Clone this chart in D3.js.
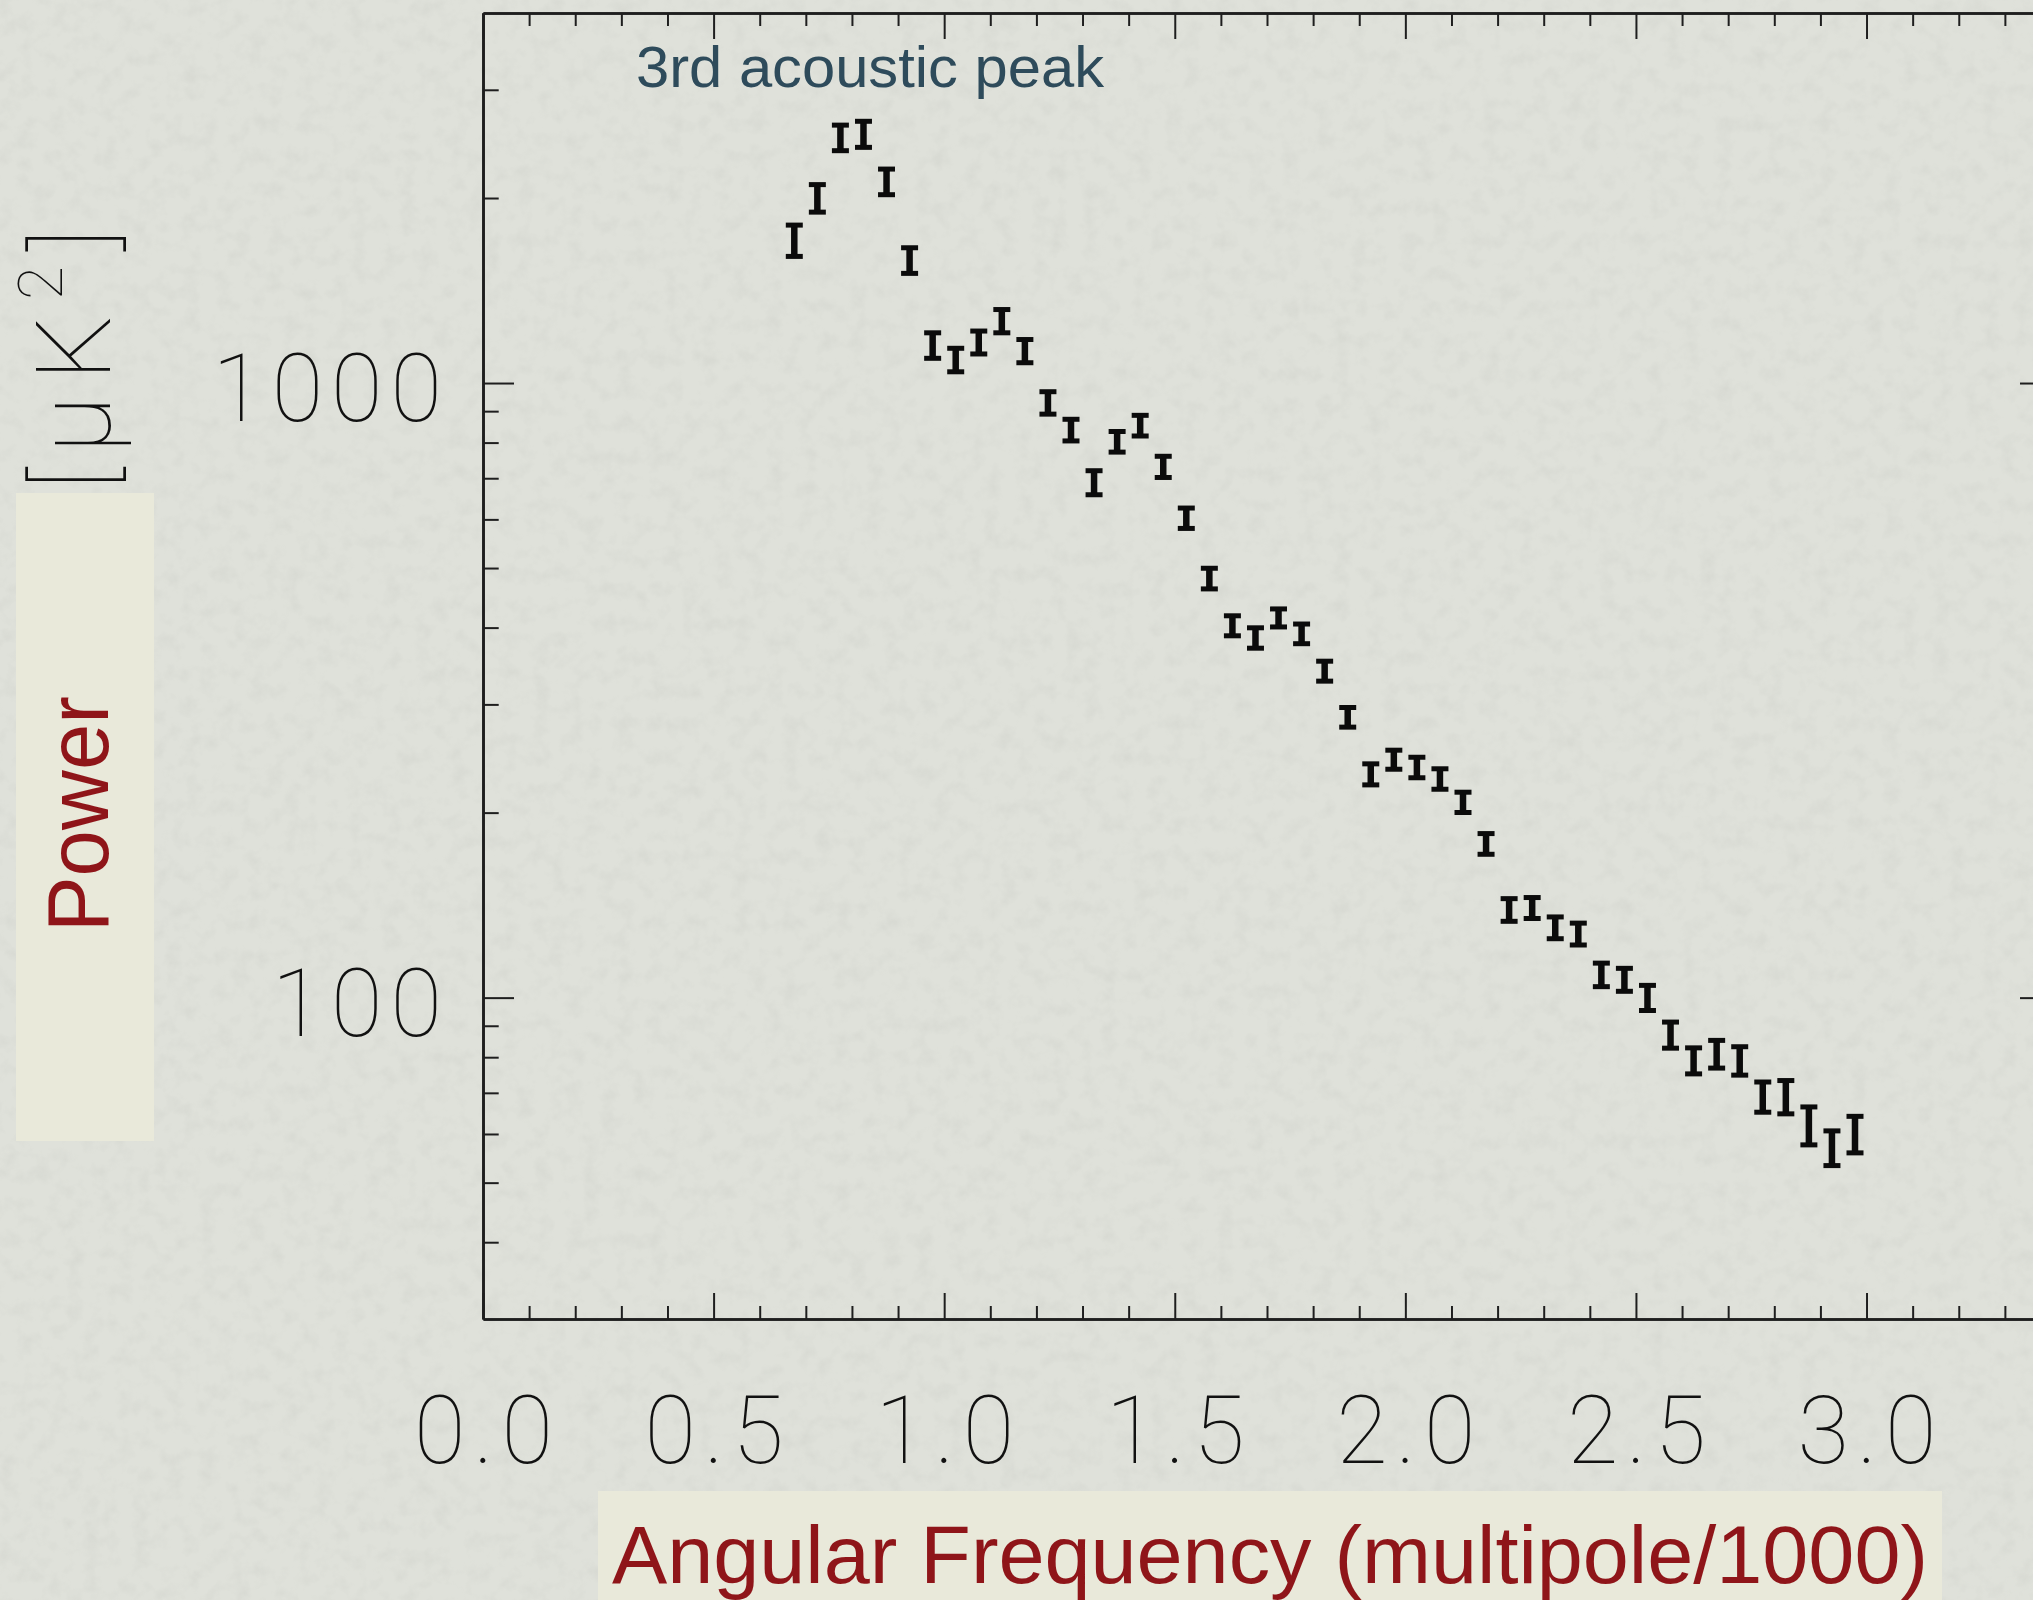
<!DOCTYPE html>
<html>
<head>
<meta charset="utf-8">
<script src="https://cdn.jsdelivr.net/npm/d3@7"></script>
<style>
  html, body { margin: 0; padding: 0; background: #dddfd8; }
  svg { display: block; }
</style>
</head>
<body>
<svg id="chart" width="2033" height="1600"></svg>
<script>
// Binned CMB power spectrum around the 3rd acoustic peak
const multipole = [0.675, 0.725, 0.775, 0.825, 0.875, 0.925, 0.975, 1.025, 1.075, 1.125,
                   1.175, 1.225, 1.275, 1.325, 1.375, 1.425, 1.475, 1.525, 1.575, 1.625,
                   1.675, 1.725, 1.775, 1.825, 1.875, 1.925, 1.975, 2.025, 2.075, 2.125,
                   2.175, 2.225, 2.275, 2.325, 2.375, 2.425, 2.475, 2.525, 2.575, 2.625,
                   2.675, 2.725, 2.775, 2.825, 2.875, 2.925, 2.975];
const power = [1707, 2000, 2508, 2542, 2127, 1584, 1152, 1091, 1165, 1262,
               1128, 929, 839, 689, 803, 853, 731, 603, 481, 403,
               385, 415, 391, 340, 286, 231, 244, 237, 227, 208,
               178, 139, 140, 130, 127, 109, 107, 100, 87, 79,
               81, 79, 69, 69, 62, 57, 60];
const powerErr = [100, 103, 120, 124, 102, 76, 55, 48, 50, 55,
                  49, 39, 34, 31, 31, 33, 29, 23, 18.6, 15.1,
                  14.7, 14, 14.4, 12.7, 10.5, 9.1, 8.7, 9.1, 8.7, 7.9,
                  6.9, 5.9, 5.5, 5.3, 5.2, 4.8, 4.6, 4.7, 4.25, 3.85,
                  4.2, 4.2, 3.9, 4.3, 4.4, 3.7, 4.1];

const xMajorTicks = [0, 0.5, 1.0, 1.5, 2.0, 2.5, 3.0];
const xTickLabels = ["0.0", "0.5", "1.0", "1.5", "2.0", "2.5", "3.0"];
const xMinorTicks = [0.1, 0.2, 0.3, 0.4, 0.6, 0.7, 0.8, 0.9, 1.1, 1.2, 1.3, 1.4,
                     1.6, 1.7, 1.8, 1.9, 2.1, 2.2, 2.3, 2.4, 2.6, 2.7, 2.8, 2.9,
                     3.1, 3.2, 3.3];
const yMajorTicks = [100, 1000];
const yTickLabels = ["100", "1000"];
const yMinorTicks = [40, 50, 60, 70, 80, 90, 200, 300, 400, 500, 600, 700, 800, 900, 2000, 3000];

const W = 2033, H = 1600;
const plot = { left: 483, right: 2051, top: 13, bottom: 1319 };

const svg = d3.select("#chart");

// paper-like background with a fine, faint grain
const defs = svg.append("defs");
const f = defs.append("filter").attr("id", "paper")
  .attr("x", 0).attr("y", 0).attr("width", "100%").attr("height", "100%");
f.append("feTurbulence").attr("type", "fractalNoise")
  .attr("baseFrequency", "0.06").attr("numOctaves", 3).attr("seed", 11);
f.append("feColorMatrix").attr("type", "matrix")
  .attr("values", "0 0 0 0 0.4  0 0 0 0 0.41  0 0 0 0 0.38  0.8 0 0 0 -0.36");
svg.append("rect").attr("width", W).attr("height", H).attr("fill", "#dfe1da");
svg.append("rect").attr("width", W).attr("height", H).attr("filter", "url(#paper)").attr("opacity", 0.35);

const x = d3.scaleLinear().domain([0, 3.4]).range([plot.left, plot.right]);
const y = d3.scaleLog().domain([30, 4000]).range([plot.bottom, plot.top]);

const axisColor = "#1e1e1e";
const xMajLen = 26, xMinLen = 13, yMajLen = 31, yMinLen = 15.7;
const thinFont = "Roboto, 'Open Sans', sans-serif";
const sansFont = "'Liberation Sans', Arial, Helvetica, sans-serif";

function styleAxis(g) {
  g.select(".domain").attr("stroke", axisColor).attr("stroke-width", 2.6);
  g.selectAll(".tick line").attr("stroke", axisColor).attr("stroke-width", 2);
}

function styleTickText(sel) {
  sel.attr("fill", "#111")
    .style("font-family", thinFont)
    .style("font-weight", 100)
    .style("font-size", "94px")
    .style("letter-spacing", "8px");
}

// bottom axis
const gBottom = svg.append("g").attr("transform", `translate(0,${plot.bottom})`);
gBottom.append("g").call(d3.axisBottom(x).tickValues(xMinorTicks).tickSizeInner(-xMinLen).tickSizeOuter(0).tickFormat(""))
  .call(styleAxis);
const gBottomMaj = gBottom.append("g")
  .call(d3.axisBottom(x).tickValues(xMajorTicks).tickSizeInner(-xMajLen).tickSizeOuter(0)
    .tickFormat((d, i) => xTickLabels[i]))
  .call(styleAxis);
gBottomMaj.selectAll(".tick text").attr("y", 144).attr("dy", 0).attr("dx", 4).call(styleTickText);

// top axis
const gTop = svg.append("g").attr("transform", `translate(0,${plot.top})`);
gTop.append("g").call(d3.axisTop(x).tickValues(xMinorTicks).tickSizeInner(-xMinLen).tickSizeOuter(0).tickFormat(""))
  .call(styleAxis);
gTop.append("g").call(d3.axisTop(x).tickValues(xMajorTicks).tickSizeInner(-xMajLen).tickSizeOuter(0).tickFormat(""))
  .call(styleAxis);

// left axis
const gLeft = svg.append("g").attr("transform", `translate(${plot.left},0)`);
gLeft.append("g").call(d3.axisLeft(y).tickValues(yMinorTicks).tickSizeInner(-yMinLen).tickSizeOuter(0).tickFormat(""))
  .call(styleAxis);
const gLeftMaj = gLeft.append("g")
  .call(d3.axisLeft(y).tickValues(yMajorTicks).tickSizeInner(-yMajLen).tickSizeOuter(0)
    .tickPadding(33).tickFormat((d, i) => yTickLabels[i]))
  .call(styleAxis);
gLeftMaj.selectAll(".tick text").attr("dy", "0.4em").call(styleTickText);

// right axis
const gRight = svg.append("g").attr("transform", `translate(${plot.right},0)`);
gRight.append("g").call(d3.axisRight(y).tickValues(yMinorTicks).tickSizeInner(-yMinLen).tickSizeOuter(0).tickFormat(""))
  .call(styleAxis);
gRight.append("g").call(d3.axisRight(y).tickValues(yMajorTicks).tickSizeInner(-yMajLen).tickSizeOuter(0).tickFormat(""))
  .call(styleAxis);

// error bars
const capHalf = 8.5;
const ink = "#0b0b0b";
const bars = svg.append("g").attr("class", "errorbars")
  .selectAll("g").data(multipole.map((m, i) => ({ m, p: power[i], e: powerErr[i] })))
  .join("g");
bars.append("line")
  .attr("x1", d => x(d.m)).attr("x2", d => x(d.m))
  .attr("y1", d => y(d.p + d.e)).attr("y2", d => y(d.p - d.e))
  .attr("stroke", ink).attr("stroke-width", 6.5);
bars.append("line")
  .attr("x1", d => x(d.m) - capHalf).attr("x2", d => x(d.m) + capHalf)
  .attr("y1", d => y(d.p + d.e)).attr("y2", d => y(d.p + d.e))
  .attr("stroke", ink).attr("stroke-width", 5);
bars.append("line")
  .attr("x1", d => x(d.m) - capHalf).attr("x2", d => x(d.m) + capHalf)
  .attr("y1", d => y(d.p - d.e)).attr("y2", d => y(d.p - d.e))
  .attr("stroke", ink).attr("stroke-width", 5);

// annotation
svg.append("text")
  .attr("x", 636).attr("y", 87)
  .attr("fill", "#2e4b5b")
  .attr("textLength", 468).attr("lengthAdjust", "spacingAndGlyphs")
  .style("font-family", sansFont)
  .style("font-size", "57px")
  .text("3rd acoustic peak");

// y axis title
svg.append("rect").attr("x", 16).attr("y", 493).attr("width", 138).attr("height", 648).attr("fill", "#e9e9da");
svg.append("text")
  .attr("transform", "translate(108,814) rotate(-90)")
  .attr("text-anchor", "middle")
  .attr("fill", "#8f1519")
  .attr("textLength", 236).attr("lengthAdjust", "spacingAndGlyphs")
  .style("font-family", sansFont)
  .style("font-size", "87px")
  .text("Power");

const unit = svg.append("text")
  .attr("transform", "translate(110,352) rotate(-90)")
  .attr("text-anchor", "middle")
  .attr("fill", "#111")
  .style("font-family", thinFont)
  .style("font-weight", 100)
  .style("font-size", "104px")
  .style("letter-spacing", "15px");
unit.append("tspan").text("[");
unit.append("tspan").text("\u03BCK");
unit.append("tspan").attr("dy", -48).style("font-size", "62px").text("2");
unit.append("tspan").attr("dy", 48).text("]");

// x axis title
svg.append("rect").attr("x", 598).attr("y", 1491).attr("width", 1344).attr("height", 109).attr("fill", "#e9e9da");
svg.append("text")
  .attr("x", 1270).attr("y", 1583)
  .attr("text-anchor", "middle")
  .attr("fill", "#8f1519")
  .attr("textLength", 1316).attr("lengthAdjust", "spacingAndGlyphs")
  .style("font-family", sansFont)
  .style("font-size", "82px")
  .text("Angular Frequency (multipole/1000)");
</script>
</body>
</html>
